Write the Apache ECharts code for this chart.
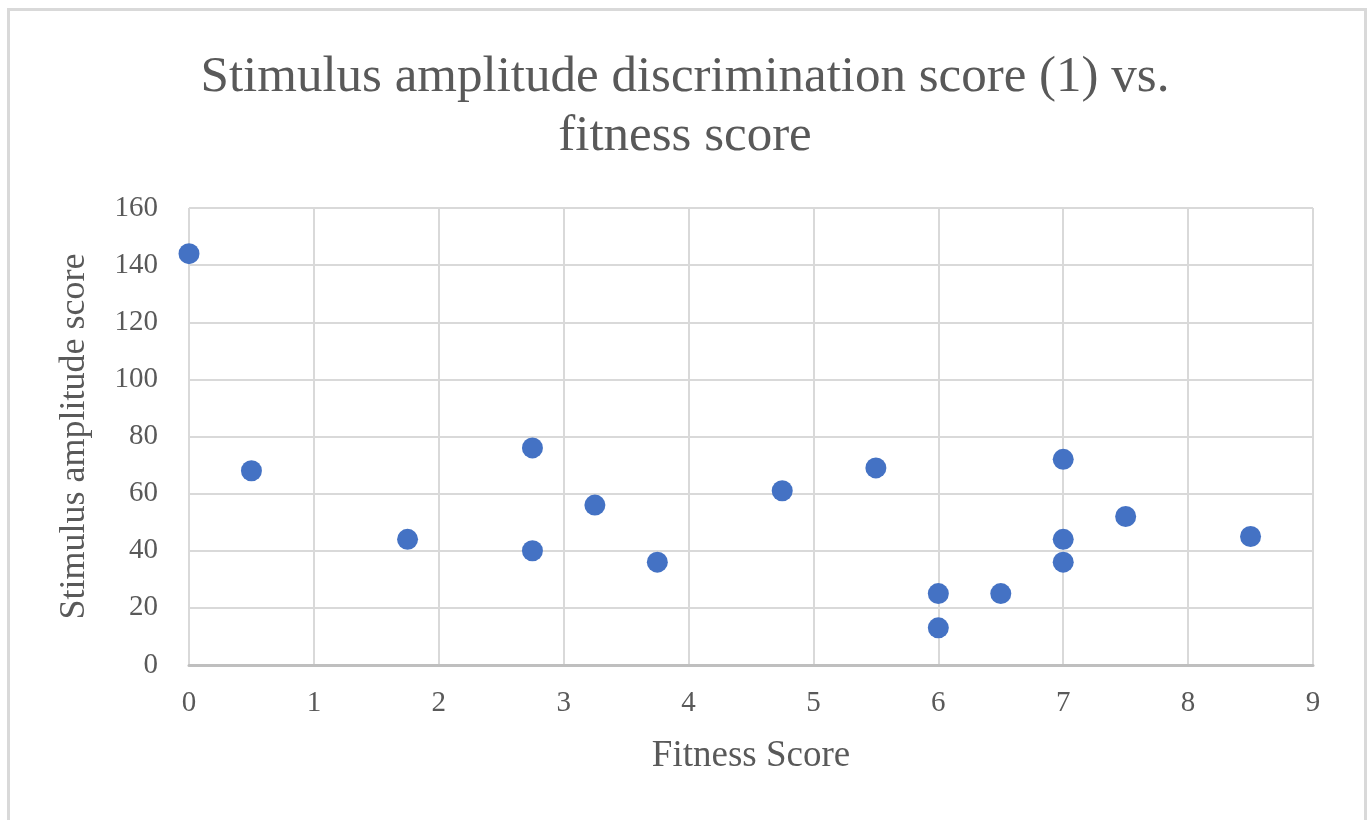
<!DOCTYPE html>
<html>
<head>
<meta charset="utf-8">
<script src="https://cdn.jsdelivr.net/npm/echarts@6/dist/echarts.min.js"></script>
<style>html,body{margin:0;padding:0;background:#fff;}#c{width:1370px;height:820px;}</style>
</head>
<body>
<div id="c"></div>
<script>
const titleText = 'Stimulus amplitude discrimination score (1) vs.\nfitness score';
const xAxisName = 'Fitness Score';
const yAxisName = 'Stimulus amplitude score';
const fitnessScores = [0, 0.5, 1.75, 2.75, 2.75, 3.25, 3.75, 4.75, 5.5, 6, 6, 6.5, 7, 7, 7, 7.5, 8.5];
const amplitudeScores = [144, 68, 44, 76, 40, 56, 36, 61, 69, 25, 13, 25, 72, 44, 36, 52, 45];
const points = fitnessScores.map((x, i) => [x, amplitudeScores[i]]);
const FONT = '"Liberation Serif", "Times New Roman", serif';
const chart = echarts.init(document.getElementById('c'), null, {renderer: 'canvas'});
chart.setOption({
  animation: false,
  backgroundColor: '#ffffff',
  graphic: [{
    type: 'rect', left: 6, top: 7, shape: {width: 1357, height: 840},
    style: {fill: 'none', stroke: '#d9d9d9', lineWidth: 3}, silent: true
  }],
  title: {
    text: titleText, left: 'center', top: 43,
    textStyle: {fontFamily: FONT, fontSize: 51, fontWeight: 'normal', color: '#595959', lineHeight: 59}
  },
  grid: {left: 189, right: 57, top: 208, bottom: 155},
  xAxis: {
    type: 'value', min: 0, max: 9, interval: 1,
    name: xAxisName, nameLocation: 'middle', nameGap: 73,
    nameTextStyle: {fontFamily: FONT, fontSize: 37, color: '#595959'},
    axisLine: {show: true, onZero: false, lineStyle: {color: '#bfbfbf', width: 3}},
    axisTick: {show: false},
    axisLabel: {fontFamily: FONT, fontSize: 29, color: '#595959', margin: 24},
    splitLine: {show: true, lineStyle: {color: '#d9d9d9', width: 2}}
  },
  yAxis: {
    type: 'value', min: 0, max: 160, interval: 20,
    name: yAxisName, nameLocation: 'middle', nameGap: 96, nameRotate: 90,
    nameTextStyle: {fontFamily: FONT, fontSize: 36, color: '#595959'},
    axisLine: {show: false},
    axisTick: {show: false},
    axisLabel: {fontFamily: FONT, fontSize: 29, color: '#595959', margin: 31},
    splitLine: {show: true, lineStyle: {color: '#d9d9d9', width: 2}}
  },
  series: [{
    type: 'scatter', data: points, symbol: 'circle', symbolSize: 21,
    itemStyle: {color: '#4472c4', opacity: 1}
  }]
});
</script>
</body>
</html>
